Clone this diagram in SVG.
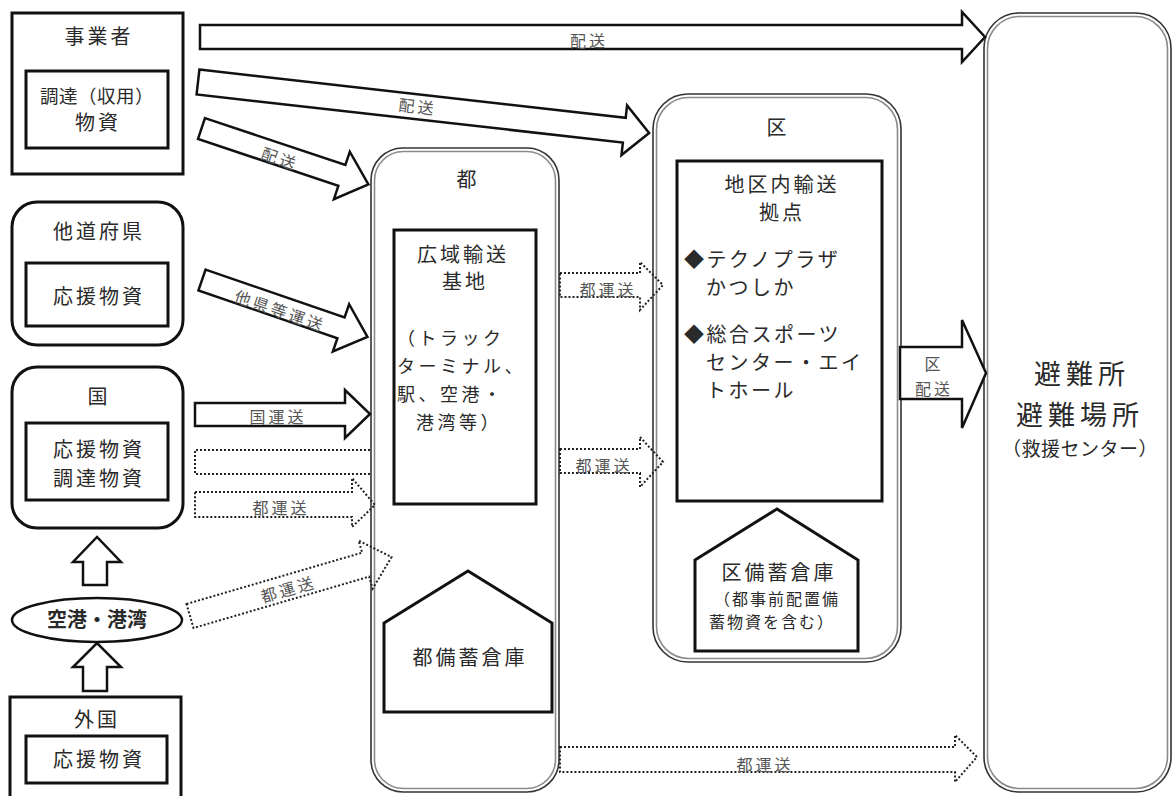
<svg xmlns="http://www.w3.org/2000/svg" width="1174" height="796" viewBox="0 0 1174 796">
<style>
.box{fill:#fff;stroke:#111;stroke-width:3}
.co{fill:#fff;stroke:#333;stroke-width:1.6}
.ci{fill:none;stroke:#8a8a8a;stroke-width:1.6}
.arr{fill:#fff;stroke:#111;stroke-width:2.5;stroke-linejoin:miter}
.dot{fill:none;stroke:#222;stroke-width:2;stroke-dasharray:2 2}
.t{font-family:"Noto Sans CJK JP","Noto Sans CJK SC",sans-serif;fill:#2a2a2a;font-size:20px;letter-spacing:3px}
.c{text-anchor:middle}
.lbl{font-size:16px;fill:#555;letter-spacing:3px}
.sm{font-size:18px;letter-spacing:3.5px}
</style>
<rect width="1174" height="796" fill="#fff"/>

<g id="node-jigyosha">
<rect class="box" x="12" y="13" width="171" height="161"/>
<rect class="box" x="26" y="71" width="142" height="77"/>
<text class="t c" x="99" y="44">事業者</text>
<text class="t c" x="97" y="103" style="font-size:18.5px;letter-spacing:0.5px">調達（収用）</text>
<text class="t c" x="98" y="130">物資</text>
</g>

<g id="node-tadofuken">
<rect class="box" x="12" y="202" width="171" height="143" rx="25"/>
<rect class="box" x="26" y="263" width="142" height="63"/>
<text class="t c" x="99" y="239">他道府県</text>
<text class="t c" x="99" y="304">応援物資</text>
</g>

<g id="node-kuni">
<rect class="box" x="12" y="367" width="171" height="161" rx="25"/>
<rect class="box" x="26" y="423" width="142" height="77"/>
<text class="t c" x="99" y="404">国</text>
<text class="t c" x="99" y="457">応援物資</text>
<text class="t c" x="99" y="486">調達物資</text>
</g>

<g id="node-kuko">
<ellipse cx="97" cy="620" rx="85" ry="22" fill="#fff" stroke="#111" stroke-width="2.5"/>
<text class="t c" x="97" y="627" style="font-weight:bold;letter-spacing:0">空港・港湾</text>
</g>

<g id="node-gaikoku">
<rect class="box" x="10" y="697" width="171" height="110"/>
<rect class="box" x="26" y="736" width="141" height="47"/>
<text class="t c" x="97" y="727">外国</text>
<text class="t c" x="99" y="767">応援物資</text>
</g>

<g id="node-to">
<rect class="co" x="371" y="148" width="188" height="644" rx="32"/>
<rect class="ci" x="374.5" y="151.5" width="181" height="637" rx="29"/>
<text class="t c" x="468" y="187">都</text>
<rect class="box" x="394" y="230" width="142" height="274"/>
<text class="t c" x="463" y="262">広域輸送</text>
<text class="t c" x="465" y="289">基地</text>
<text class="t sm" x="397" y="345">（トラック</text>
<text class="t sm" x="397" y="373">ターミナル、</text>
<text class="t sm" x="397" y="401">駅、空港・</text>
<text class="t sm" x="416" y="429">港湾等）</text>
<polygon class="box" points="384,623 468,571 552,623 552,712 384,712"/>
<text class="t c" x="470" y="665">都備蓄倉庫</text>
</g>

<g id="node-ku">
<rect class="co" x="653" y="94" width="248" height="568" rx="35"/>
<rect class="ci" x="656.5" y="97.5" width="241" height="561" rx="32"/>
<text class="t c" x="778" y="135">区</text>
<rect class="box" x="677" y="161" width="205" height="340"/>
<text class="t c" x="782" y="192">地区内輸送</text>
<text class="t c" x="782" y="220">拠点</text>
<text class="t" x="684" y="267" style="letter-spacing:2.5px">◆テクノプラザ</text>
<text class="t" x="706" y="295" style="letter-spacing:2.5px">かつしか</text>
<text class="t" x="684" y="342" style="letter-spacing:2.5px">◆総合スポーツ</text>
<text class="t" x="706" y="370" style="letter-spacing:2.5px">センター・エイ</text>
<text class="t" x="706" y="398" style="letter-spacing:2.5px">トホール</text>
<polygon class="box" points="695,560 777,509 858,560 858,651 695,651"/>
<text class="t c" x="779" y="580">区備蓄倉庫</text>
<text class="t" x="714" y="605" style="font-size:16px;letter-spacing:2px">（都事前配置備</text>
<text class="t" x="709" y="628" style="font-size:16px;letter-spacing:2px">蓄物資を含む）</text>
</g>

<g id="node-hinanjo">
<rect class="co" x="984" y="13" width="187" height="779" rx="35"/>
<rect class="ci" x="987.5" y="16.5" width="180" height="772" rx="32"/>
<text class="t c" x="1082" y="384" style="font-size:27px;letter-spacing:5px">避難所</text>
<text class="t c" x="1080" y="425" style="font-size:27px;letter-spacing:5px">避難場所</text>
<text class="t c" x="1080" y="456" style="font-size:19px;letter-spacing:0.5px">（救援センター）</text>
</g>

<g id="connectors">
<path class="arr" d="M200,25 L962,25 L962,12 L985,37 L962,62 L962,49 L200,49 Z"/>
<text class="t c lbl" x="589" y="47">配送</text>

<g transform="translate(198,82) rotate(6.45)">
<path class="arr" d="M0,-12.5 L429,-12.5 L429,-25 L454,0 L429,25 L429,12.5 L0,12.5 Z"/>
<text class="t c lbl" x="221" y="6">配送</text>
</g>

<g transform="translate(201.5,128.5) rotate(18.5)">
<path class="arr" d="M0,-11 L148,-11 L148,-25 L176,0 L148,25 L148,11 L0,11 Z"/>
<text class="t c lbl" x="84" y="10">配送</text>
</g>

<g transform="translate(202,280) rotate(19)">
<path class="arr" d="M0,-11 L147,-11 L147,-25 L175,0 L147,25 L147,11 L0,11 Z"/>
<text class="t c lbl" x="84" y="10">他県等運送</text>
</g>

<path class="arr" d="M195,403 L345,403 L345,390 L370,414 L345,438 L345,426 L195,426 Z"/>
<text class="t c lbl" x="278" y="423">国運送</text>

<path class="dot" d="M370,450 L195,450 L195,474 L370,474"/>

<path class="dot" d="M195,492 L352,492 L352,478 L375,505 L352,527 L352,517 L195,517 Z"/>
<text class="t c lbl" x="281" y="514">都運送</text>

<g transform="translate(190,616) rotate(-16.3)">
<path class="dot" d="M0,-12.5 L183,-12.5 L183,-25 L210,0 L183,25 L183,12.5 L0,12.5 Z"/>
<text class="t c lbl" x="102" y="8">都運送</text>
</g>

<path class="arr" d="M83,585 L83,562 L73,562 L97,537 L121,562 L107,562 L107,585 Z"/>
<path class="arr" d="M83,691 L83,667 L73,667 L97,643 L121,667 L107,667 L107,691 Z"/>

<path class="dot" d="M560,273 L640,273 L640,262 L663,285 L640,310 L640,297 L560,297 Z"/>
<text class="t c lbl" x="608" y="296">都運送</text>

<path class="dot" d="M560,449 L640,449 L640,437 L663,462 L640,487 L640,473 L560,473 Z"/>
<text class="t c lbl" x="604" y="472">都運送</text>

<path class="dot" d="M560,747 L955,747 L955,735 L977,757 L955,782 L955,772 L560,772 Z"/>
<text class="t c lbl" x="765" y="771">都運送</text>

<path class="arr" d="M900,347 L962,347 L962,320 L986,373 L962,428 L962,399 L900,399 Z"/>
<text class="t c lbl" x="934" y="370">区</text>
<text class="t c lbl" x="934" y="395">配送</text>
</g>
</svg>
